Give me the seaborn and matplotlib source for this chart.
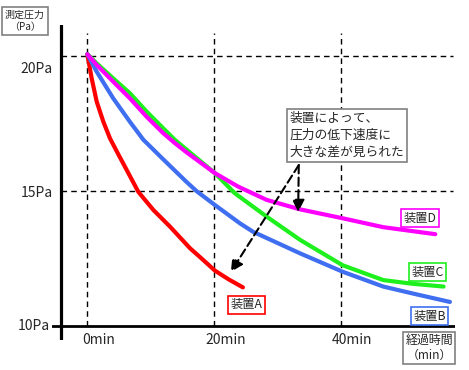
import matplotlib
matplotlib.use("Agg")
import matplotlib.pyplot as plt
import pandas as pd
import seaborn as sns

# values (minutes, Pa)
time_a = [0, 0.69, 1.48, 2.52, 3.57, 4.88, 6.2, 8.03, 10.39, 13.02, 16.17, 17.75, 20.1, 22.3, 24.5]
pres_a = [20.07, 19.17, 18.31, 17.57, 16.95, 16.36, 15.78, 14.97, 14.30, 13.68, 12.88, 12.55, 12.05, 11.72, 11.43]
time_b = [0, 1.48, 4.09, 6.72, 8.82, 11.97, 15.65, 17.23, 20.1, 24.05, 26.1, 33.5, 40.2, 46.6, 51.3, 57.1]
pres_b = [20.07, 19.42, 18.43, 17.56, 16.90, 16.17, 15.33, 14.99, 14.48, 13.80, 13.49, 12.69, 12.01, 11.46, 11.20, 10.89]
time_c = [0, 1.48, 4.09, 6.72, 9.35, 11.97, 13.81, 20.1, 23.26, 28.25, 33.5, 40.2, 46.6, 51.3, 56.1]
pres_c = [20.07, 19.73, 19.17, 18.62, 17.94, 17.32, 16.89, 15.66, 14.91, 14.05, 13.19, 12.25, 11.70, 11.56, 11.46]
time_d = [0, 1.48, 4.09, 6.72, 9.35, 11.97, 13.81, 15.65, 20.1, 23.78, 28.25, 33.5, 40.2, 46.6, 54.8]
pres_d = [20.07, 19.67, 19.05, 18.43, 17.75, 17.14, 16.77, 16.43, 15.66, 15.16, 14.67, 14.32, 13.99, 13.66, 13.40]

names = ["装置A", "装置B", "装置C", "装置D"]
colors = ["#ff0000", "#3f6ff0", "#1ef01e", "#ff00ff"]

x_ticks = [0, 20, 40]
x_labels = ["0min", "20min", "40min"]
y_ticks = [20, 15, 10]
y_labels = ["20Pa", "15Pa", "10Pa"]
note = "装置によって、\n圧力の低下速度に\n大きな差が見られた"

frames = []
for n, t, p in zip(names, [time_a, time_b, time_c, time_d], [pres_a, pres_b, pres_c, pres_d]):
    frames.append(pd.DataFrame({"time": t, "pressure": p, "device": n}))
df = pd.concat(frames, ignore_index=True)

sns.set_theme(style="white")
plt.rcParams["font.family"] = ["Noto Sans CJK JP", "DejaVu Sans"]

fig = plt.figure(figsize=(4.69, 3.70), dpi=100)
ax = fig.add_axes([52 / 469, 30 / 370, 403 / 469, 315 / 370])
ax.set_xlim(-5.56, 57.9)
ax.set_ylim(9.48, 21.15)
for s in ax.spines.values():
    s.set_visible(False)
ax.set_xticks([])
ax.set_yticks([])

# dashed guides
dash = (0, (4, 3))
ax.vlines(x_ticks, 10, 20.85, colors="black", lw=1, linestyles=dash)
ax.hlines([20, 15], -4.14, 57.6, colors="black", lw=1, linestyles=dash)

sns.lineplot(data=df, x="time", y="pressure", hue="device", palette=colors,
             estimator=None, lw=3, legend=False, ax=ax, zorder=3)

# axis lines
ax.axvline(-4.14, color="black", lw=2.3, zorder=4)
ax.axhline(10, color="black", lw=2.0, zorder=4)

# tick labels
for v, lab, dy, dx in zip(y_ticks, y_labels, [-13, -2, 0], [-8, -8, -11]):
    ax.annotate(lab, xy=(-4.14, v), xytext=(dx, dy), textcoords="offset pixels",
                ha="right", va="center", fontsize=10)
for v, lab in zip(x_ticks, x_labels):
    ax.annotate(lab, xy=(v, 10), xytext=(11, -14), textcoords="offset pixels",
                ha="center", va="center", fontsize=10)

# axis titles
fig.text(25 / 469, 1 - 21 / 370, "測定圧力\n（Pa）", ha="center", va="center",
         fontsize=7.2, linespacing=1.3,
         bbox=dict(boxstyle="square,pad=0.3", fc="white", ec="#808080", lw=1.2))
fig.text(429 / 469, 1 - 348 / 370, "経過時間\n（min）", ha="center", va="center",
         fontsize=8.6, linespacing=1.2,
         bbox=dict(boxstyle="square,pad=0.2", fc="white", ec="#808080", lw=1.2))

# device labels
label_pos = [(25.1, 10.78), (53.9, 10.37), (53.6, 12.0), (52.4, 14.0)]
for n, c, (x, y) in zip(names, colors, label_pos):
    ax.text(x, y, n, ha="center", va="center", fontsize=8.8, zorder=5,
            bbox=dict(boxstyle="square,pad=0.2", fc="white", ec=c, lw=1.2))

# note and arrows
ax.text(40.9, 17.06, note, ha="center", va="center", multialignment="left",
        fontsize=9.2, linespacing=1.4, zorder=5,
        bbox=dict(boxstyle="square,pad=0.22", fc="white", ec="#808080", lw=1.2))
for tip in [(33.2, 14.22), (22.6, 12.0)]:
    ax.annotate("", xy=tip, xytext=(33.3, 15.96), zorder=6,
                arrowprops=dict(arrowstyle="-|>,head_length=0.6,head_width=0.3",
                                linestyle=(0, (4, 2)), lw=1.5, color="black",
                                shrinkA=0, shrinkB=0))

fig.savefig("out.png", dpi=100, facecolor="white")
